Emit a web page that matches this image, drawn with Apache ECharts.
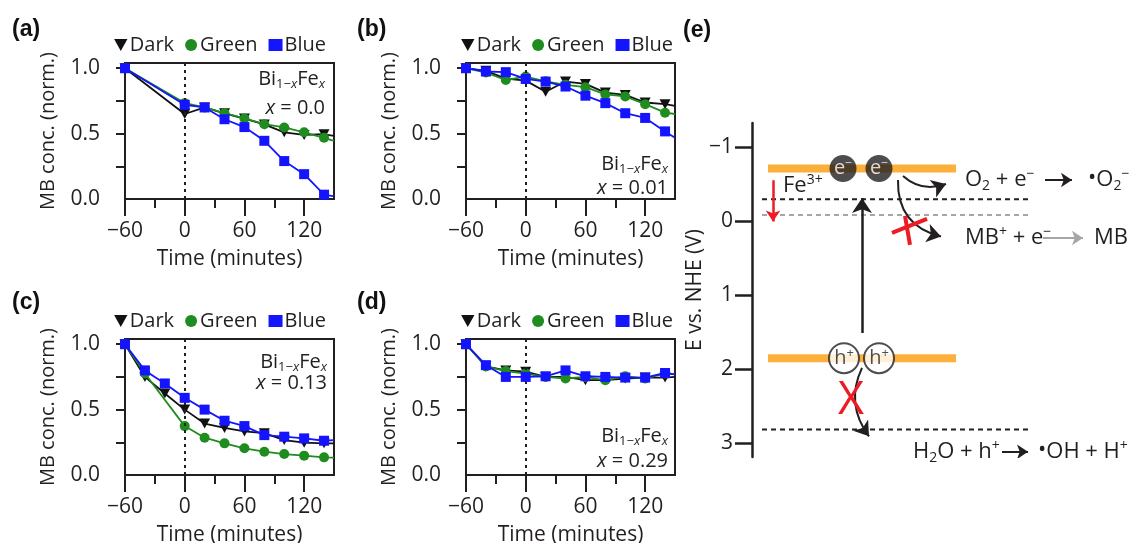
<!DOCTYPE html>
<html><head><meta charset="utf-8">
<script src="https://cdn.jsdelivr.net/npm/echarts@6/dist/echarts.min.js"></script>
<style>html,body{margin:0;padding:0;background:#fff}#c{width:1136px;height:543px}</style>
</head><body><div id="c"></div>
<script>
// ---------- data ----------
const timesA = [-60, 0, 20, 40, 60, 80, 100, 120, 140, 150];
const times  = [-60, -40, -20, 0, 20, 40, 60, 80, 100, 120, 140, 150];

const darkA  = [1.0, 0.65, 0.70, 0.655, 0.615, 0.57, 0.51, 0.49, 0.495, 0.483];
const greenA = [1.0, 0.733, 0.70, 0.656, 0.616, 0.572, 0.547, 0.51, 0.468, 0.445];
const blueA  = [1.0, 0.72, 0.70, 0.61, 0.55, 0.445, 0.29, 0.19, 0.033, 0.02];

const darkB  = [1.0, 0.98, 0.92, 0.905, 0.82, 0.898, 0.88, 0.814, 0.796, 0.738, 0.725, 0.712];
const greenB = [1.0, 0.967, 0.91, 0.936, 0.9, 0.873, 0.855, 0.80, 0.784, 0.725, 0.66, 0.65];
const blueB  = [1.0, 0.975, 0.97, 0.918, 0.898, 0.86, 0.79, 0.733, 0.656, 0.62, 0.517, 0.468];

const darkC  = [1.0, 0.75, 0.623, 0.50, 0.393, 0.36, 0.333, 0.32, 0.267, 0.247, 0.242, 0.242];
const greenC = [1.0, 0.776, null, 0.374, 0.285, 0.242, 0.204, 0.178, 0.16, 0.148, 0.135, 0.133];
const blueC  = [1.0, 0.80, 0.70, 0.59, 0.50, 0.415, 0.374, 0.305, 0.293, 0.28, 0.262, 0.267];

const darkD  = [1.0, 0.83, 0.80, 0.79, 0.75, 0.75, 0.725, 0.725, 0.738, 0.745, 0.745, 0.75];
const greenD = [1.0, 0.83, 0.795, 0.776, 0.75, 0.738, 0.75, 0.725, 0.755, 0.738, 0.776, 0.77];
const blueD  = [1.0, 0.84, 0.75, 0.75, 0.755, 0.80, 0.755, 0.75, 0.745, 0.745, 0.78, 0.77];

const dopingX = ['0.0', '0.01', '0.13', '0.29'];
const seriesNames = ['Dark', 'Green', 'Blue'];
const panelLetters = ['(a)', '(b)', '(c)', '(d)', '(e)'];

const xTickLabels = [-60, 0, 60, 120];
const xMinorTicks = [-30, 30, 90];
const yTicks = [0.25, 0.5, 0.75, 1.0];
const yTickLabels = [0, 0.5, 1.0];

// panel (e): energies vs NHE (V)
const eTicks = [-1, 0, 1, 2, 3];
const bandEdges = [-0.71, 1.855];          // conduction band, valence band
const redoxLevels = [-0.293, -0.08, 2.82]; // O2/O2-, MB+/MB, H2O/OH

// ---------- styles ----------
const F = "'Open Sans', sans-serif";
const INK = '#231f20';
const COLORS = {Dark: '#111111', Green: '#1f8c1f', Blue: '#1414ff'};
const TRI = 'path://M0,0L10,0L5,9Z';
const SYMBOL = {Dark: TRI, Green: 'circle', Blue: 'rect'};
const SYMSIZE = {Dark: [11, 10], Green: 10, Blue: 10};
const mns = v => String(v).replace('-', '\u2212');

const panels = [
  {t: timesA, v: [darkA, greenA, blueA]},
  {t: times,  v: [darkB, greenB, blueB]},
  {t: times,  v: [darkC, greenC, blueC]},
  {t: times,  v: [darkD, greenD, blueD]}
];
const gridPos = [[125, 63], [466, 63], [125, 339], [466, 339]];
const legendPos = [[810, 35], [463, 35], [810, 311], [463, 311]];

const grids = [], xAxes = [], yAxes = [], series = [], legends = [];
gridPos.forEach((p, i) => {
  grids.push({left: p[0], top: p[1], width: 209, height: 136, show: true,
    borderColor: INK, borderWidth: 2, backgroundColor: 'transparent',
    containLabel: false, outerBoundsMode: 'none'});
});
// main x axes
gridPos.forEach((p, i) => {
  xAxes.push({type: 'value', gridIndex: i, min: -60, max: 150, position: 'bottom',
    axisLine: {show: true, onZero: false, lineStyle: {color: INK, width: 2}},
    axisTick: {show: true, customValues: xTickLabels, length: 17, lineStyle: {color: INK, width: 2}},
    axisLabel: {show: true, customValues: xTickLabels, formatter: mns, fontSize: 21, fontFamily: F, color: INK, margin: 22},
    splitLine: {show: false},
    name: 'Time (minutes)', nameLocation: 'middle', nameGap: 50,
    nameTextStyle: {fontSize: 21, fontFamily: F, color: INK}});
});
// minor-tick x axes
gridPos.forEach((p, i) => {
  xAxes.push({type: 'value', gridIndex: i, min: -60, max: 150, position: 'bottom', offset: 0,
    axisLine: {show: false},
    axisTick: {show: true, customValues: xMinorTicks, length: 9, lineStyle: {color: INK, width: 2}},
    axisLabel: {show: false}, splitLine: {show: false}});
});
// main y axes
gridPos.forEach((p, i) => {
  yAxes.push({type: 'value', gridIndex: i, min: 0, max: 1.04, position: 'left',
    axisLine: {show: true, onZero: false, lineStyle: {color: INK, width: 2}},
    axisTick: {show: true, customValues: yTicks, length: 9, lineStyle: {color: INK, width: 2}},
    axisLabel: {show: true, customValues: yTickLabels, formatter: v => v.toFixed(1), fontSize: 21, fontFamily: F, color: INK, margin: 25},
    splitLine: {show: false},
    name: 'MB conc. (norm.)', nameLocation: 'middle', nameGap: 67,
    nameTextStyle: {fontSize: 20, fontFamily: F, color: INK}});
});
// long tick at 0 on y
gridPos.forEach((p, i) => {
  yAxes.push({type: 'value', gridIndex: i, min: 0, max: 1.04, position: 'left', offset: 0,
    axisLine: {show: false},
    axisTick: {show: true, customValues: [0], length: 18, lineStyle: {color: INK, width: 2}},
    axisLabel: {show: false}, splitLine: {show: false}});
});

panels.forEach((pn, i) => {
  seriesNames.forEach((nm, k) => {
    const data = [];
    pn.t.forEach((t, j) => {
      const v = pn.v[k][j];
      if (v == null) return;
      if (t === 150) data.push({value: [t, v], symbol: 'none'});
      else data.push([t, v]);
    });
    const s = {name: nm, type: 'line', xAxisIndex: i, yAxisIndex: i, data,
      symbol: SYMBOL[nm], symbolSize: SYMSIZE[nm], showSymbol: true,
      itemStyle: {color: COLORS[nm]}, lineStyle: {color: COLORS[nm], width: 1.8},
      animation: false, z: 3 + k};
    if (k === 0) {
      s.markLine = {silent: true, symbol: 'none', label: {show: false}, animation: false,
        lineStyle: {color: INK, type: [3, 4], width: 2}, data: [{xAxis: 0}]};
    }
    series.push(s);
  });
  legends.push({right: legendPos[i][0], top: legendPos[i][1], orient: 'horizontal',
    selectedMode: false, itemWidth: 14, itemHeight: 12, itemGap: 11, padding: 0,
    textStyle: {fontSize: 20, fontFamily: F, color: INK, padding: [0, 0, 0, -3]},
    data: [{name: 'Dark', icon: TRI}, {name: 'Green', icon: 'circle'}, {name: 'Blue', icon: 'rect'}]});
});

// ---------- panel (e) ----------
grids.push({left: 752, top: 123, width: 384, height: 334, show: false, containLabel: false, outerBoundsMode: 'none'});
xAxes.push({type: 'value', gridIndex: 4, min: 0, max: 384, show: false});
yAxes.push({type: 'value', gridIndex: 4, min: -1.324, max: 3.19, inverse: true, position: 'left',
  axisLine: {show: true, lineStyle: {color: INK, width: 2.5}},
  axisTick: {show: true, customValues: eTicks, length: 17, lineStyle: {color: INK, width: 2.5}},
  axisLabel: {show: true, customValues: eTicks, formatter: mns, fontSize: 21, fontFamily: F, color: INK, margin: 19},
  splitLine: {show: false},
  name: 'E vs. NHE (V)', nameLocation: 'middle', nameGap: 39,
  nameTextStyle: {fontSize: 21, fontFamily: F, color: INK}});

const E = {xAxisIndex: 8, yAxisIndex: 8, animation: false, silent: true};
const levelColors = [INK, '#a6a6a6', INK];
redoxLevels.forEach((lv, i) => {
  series.push(Object.assign({type: 'line', data: [[10, lv], [280, lv]], symbol: 'none',
    lineStyle: {color: levelColors[i], width: 2, type: [5, 4]}, z: 1}, E));
});
bandEdges.forEach(lv => {
  series.push(Object.assign({type: 'line', data: [[16, lv], [204, lv]], symbol: 'none',
    lineStyle: {color: '#fbb03b', width: 8, cap: 'butt'}, z: 2}, E));
});
function arrow(coords, color, width, size, curv, z) {
  return Object.assign({type: 'lines', coordinateSystem: 'cartesian2d', symbol: ['none', 'arrow'],
    symbolSize: size, lineStyle: {color, width, curveness: curv, opacity: 1},
    data: [{coords}], z: z || 4}, E);
}
// excitation arrow
series.push(arrow([[110, 1.514], [110, -0.31]], INK, 2.5, 15, 0));
// Fe3+ level shift
series.push(arrow([[21, bandEdges[0] + 0.16], [21, 0.006]], '#ed1c24', 2.5, 11, 0));
// to O2
series.push(arrow([[151, -0.608], [194, -0.50]], INK, 2, 14, -0.3));
// to MB
series.push(arrow([[146, -0.554], [189, 0.21]], INK, 2, 14, -0.4));
// hole to H2O
series.push(arrow([[110, 1.986], [117, 2.91]], INK, 2, 14, -0.3));
// equation arrows
series.push(arrow([[293, -0.554], [320, -0.554]], INK, 2, 11, 0));
series.push(arrow([[291, 0.23], [331, 0.23]], '#a6a6a6', 2, 11, 0));
series.push(arrow([[250, 3.12], [276, 3.12]], INK, 2, 11, 0));
// red strike on MB arrow
series.push(Object.assign({type: 'lines', coordinateSystem: 'cartesian2d', symbol: 'none',
  lineStyle: {color: '#ed1c24', width: 4, opacity: 1},
  data: [{coords: [[140, 0.162], [175, -0.027]]}, {coords: [[153, -0.068], [158, 0.324]]}], z: 6}, E));
// electrons
series.push(Object.assign({type: 'scatter', data: [[91, bandEdges[0]], [127, bandEdges[0]]],
  symbol: 'circle', symbolSize: 27, itemStyle: {color: INK},
  label: {show: true, position: 'inside', formatter: '{e|e}{m|\u2212}',
    rich: {e: {fontSize: 20, fontFamily: F, color: '#fff', lineHeight: 22},
           m: {fontSize: 12, fontFamily: F, color: '#fff', lineHeight: 12, verticalAlign: 'top'}}},
  z: 7}, E));
// holes
series.push(Object.assign({type: 'scatter', data: [[92, bandEdges[1]], [127, bandEdges[1]]],
  symbol: 'circle', symbolSize: 30, itemStyle: {color: '#fff', borderColor: INK, borderWidth: 2},
  label: {show: true, position: 'inside', formatter: '{e|h}{m|+}',
    rich: {e: {fontSize: 20, fontFamily: F, color: INK, lineHeight: 22},
           m: {fontSize: 13, fontFamily: F, color: INK, lineHeight: 12, verticalAlign: 'top'}}},
  z: 7}, E));

// ---------- text graphics ----------
const graphics = [];
function txt(x, y, text, rich, align, extra) {
  graphics.push(Object.assign({type: 'text', x, y, silent: true, z: 100,
    style: Object.assign({text, rich, align: align || 'left', textAlign: align || 'left',
      verticalAlign: 'middle', textVerticalAlign: 'middle', fill: INK,
      fontSize: 20, fontFamily: F}, extra || {})}));
}
const labPos = [[12, 30], [357, 30], [12, 303], [357, 303], [683, 31]];
panelLetters.forEach((l, i) => {
  txt(labPos[i][0], labPos[i][1], l, undefined, 'left',
    {fontFamily: "'Liberation Sans', Arial, sans-serif", fontWeight: 'bold', fontSize: 23, fill: '#111'});
});
const annRich = {
  n: {fontSize: 20, fontFamily: F, color: INK, lineHeight: 24},
  s: {fontSize: 13, fontFamily: F, color: INK, lineHeight: 13, verticalAlign: 'bottom'},
  si: {fontSize: 13, fontFamily: F, color: INK, lineHeight: 13, verticalAlign: 'bottom', fontStyle: 'italic'},
  i: {fontSize: 20, fontFamily: F, color: INK, lineHeight: 24, fontStyle: 'italic'}
};
const annPos = [[325, 79, 108], [668, 164, 188], [327, 362, 383], [668, 436, 461]];
annPos.forEach((p, i) => {
  txt(p[0], p[1], '{n|Bi}{s|1\u2212}{si|x}{n|Fe}{si|x}', annRich, 'right');
  txt(p[0], p[2], '{i|x}{n| = ' + dopingX[i] + '}', annRich, 'right');
});
const eqRich = (c) => ({
  n: {fontSize: 22, fontFamily: F, color: c, lineHeight: 26},
  s: {fontSize: 14, fontFamily: F, color: c, lineHeight: 14, verticalAlign: 'bottom'},
  p: {fontSize: 14, fontFamily: F, color: c, lineHeight: 14, verticalAlign: 'top'},
  b: {fontSize: 22, fontFamily: F, color: c, lineHeight: 16, verticalAlign: 'top'}
});
txt(965, 180, '{n|O}{s|2}{n| + e}{p|\u2212}', eqRich(INK));
txt(1088, 180, '{b|\u2022}{n|O}{s|2}{p|\u2212}', eqRich(INK));
txt(965, 238, '{n|MB}{p|+}{n| + e}{p|\u2212}', eqRich('#999999'));
txt(1094, 238, '{n|MB}', eqRich('#999999'));
txt(913, 452, '{n|H}{s|2}{n|O + h}{p|+}', eqRich(INK));
txt(1038, 452, '{b|\u2022}{n|OH + H}{p|+}', eqRich(INK));
txt(783, 186, '{n|Fe}{p|3+}', eqRich('#ed1c24'));
txt(851, 401, 'X', undefined, 'center', {fontSize: 45, fill: '#ed1c24', fontFamily: F});

const chart = echarts.init(document.getElementById('c'));
chart.setOption({
  animation: false,
  backgroundColor: '#ffffff',
  textStyle: {fontFamily: F},
  grid: grids, xAxis: xAxes, yAxis: yAxes, legend: legends, series, graphic: graphics
});
</script></body></html>
